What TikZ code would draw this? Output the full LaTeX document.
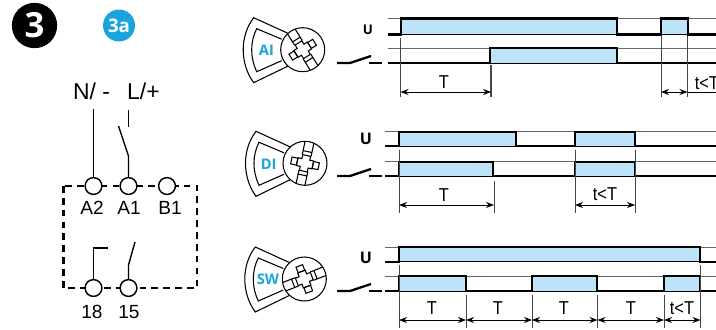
\documentclass[tikz,border=0pt]{standalone}
\usepackage{fontspec}
\setmainfont{Liberation Sans}
\newfontfamily\boldfam{Open Sans}[BoldFont={* Bold}]
\usetikzlibrary{arrows.meta}
\definecolor{sigblue}{HTML}{BDE3F9}
\definecolor{markblue}{HTML}{1BA3DD}
\definecolor{thingray}{HTML}{666666}
\newcommand{\narrow}[1]{\scalebox{0.88}[1]{#1}}
\tikzset{
  x=0.75pt,y=-0.75pt,
  wire/.style={black,line width=1.05pt},
  terminal/.style={circle,draw=black,line width=1.1pt,fill=white,minimum size=12.6pt,inner sep=0pt},
  termlabel/.style={inner sep=0pt,font=\fontsize{14.3pt}{15pt}\selectfont},
  supply/.style={inner sep=0pt,font=\fontsize{17.2pt}{18pt}\selectfont},
  boxdash/.style={black,line width=1.7pt,dash pattern=on 5pt off 3.9pt},
  sigfill/.style={fill=sigblue,draw=none},
  thinline/.style={thingray,line width=0.75pt},
  baseline/.style={black,line width=0.7pt},
  sigline/.style={black,line width=1.7pt,line join=miter},
  tick/.style={thingray!70!black,line width=0.7pt},
  dim/.style={black,line width=0.6pt,{Stealth[length=6pt,width=4.5pt]}-{Stealth[length=6pt,width=4.5pt]}},
  dimlabel/.style={inner sep=0pt,font=\fontsize{14pt}{15pt}\selectfont},
  ulabel/.style={inner sep=0pt,font=\boldfam\bfseries\fontsize{12pt}{13pt}\selectfont},
  iconline/.style={black,line width=0.8pt,line join=miter},
  iconlabel/.style={inner sep=0pt,text=markblue,font=\boldfam\bfseries\fontsize{11pt}{12pt}\selectfont},
}
% selector icon: centre x, centre y, rotation, label, node name
\newcommand{\selectoricon}[5]{
  \begin{scope}[shift={(#1,#2)}]
    \draw[iconline] (-15,-16.5) -- (-49,-32) .. controls (-63,-14) and (-63,14) .. (-49,33) -- (-15,16.5);
    \draw[iconline] (-21,-10.5) -- (-46,-21) .. controls (-52.7,-8) and (-52.7,8) .. (-46,22) -- (-21,11);
    \node[iconlabel] (#5) at (-36.3,0.5) {#4};
    \draw[iconline,fill=white] (0,0) circle (22);
    \begin{scope}[rotate=#3]
      \draw[iconline] (-4,-4) -- (-4,-8) -- (4,-8) -- (4,-4) -- (8,-4) -- (8,4) -- (4,4) -- (4,8) -- (-4,8) -- (-4,4) -- (-8,4) -- (-8,-4) -- cycle;
      \draw[iconline] (8,-3.5) rectangle (14,3.5);
      \draw[iconline] (-8,-3.5) rectangle (-14,3.5);
      \draw[iconline] (-4.5,-8) -- (-4.5,-21.5) (4.5,-8) -- (4.5,-21.5) (-4.5,-12) -- (4.5,-12);
      \draw[iconline] (-4.5,8) -- (-4.5,21.5) (4.5,8) -- (4.5,21.5) (-4.5,12) -- (4.5,12);
    \end{scope}
  \end{scope}
}
% contact symbol at height y
\newcommand{\contact}[1]{
  \draw[sigline] (337,#1) -- (350,#1) -- (371,#1-7);
  \draw[sigline] (369,#1) -- (382,#1);
}
\begin{document}
\begin{tikzpicture}
\useasboundingbox (0,0) rectangle (716,329);
\clip (0,0) rectangle (716,329);

% badges
\node[circle,fill=black,minimum size=34pt,inner sep=0pt,text=white,font=\boldfam\bfseries\fontsize{26pt}{27pt}\selectfont] (badge) at (34.5,25.5) {3};
\node[circle,fill=markblue,minimum size=24pt,inner sep=0pt,text=white,font=\boldfam\bfseries\fontsize{14pt}{15pt}\selectfont] (subbadge) at (119,25.5) {3a};

% wiring box
\draw[boxdash] (63.5,186) rectangle (197,288);
\node[terminal] (A2) at (93.5,186) {};
\node[terminal] (A1) at (128.5,186) {};
\node[terminal] (B1) at (167,186) {};
\node[terminal] (T18) at (93.5,288) {};
\node[terminal] (T15) at (128.5,288) {};
\node[termlabel] (lA2) at (92,208) {A2};
\node[termlabel] (lA1) at (129,208) {A1};
\node[termlabel] (lB1) at (170,208) {B1};
\node[termlabel] (l18) at (92,312) {18};
\node[termlabel] (l15) at (129,312) {15};
\node[supply] (lN) at (91.5,91) {N/ -};
\node[supply] (lL) at (143.5,91) {L/+};

\coordinate (Ntop) at (93.5,109);
\coordinate (Ltop) at (128.3,110);
\coordinate (Lbot) at (128.3,127);
\coordinate (swA) at (118.5,126);
\coordinate (swB) at (128.5,156);
\coordinate (r18a) at (93.5,248);
\coordinate (r18b) at (108,248);
\coordinate (r15a) at (128.5,265);
\coordinate (r15b) at (135,242);
\draw[wire] (Ntop) -- (A2);
\draw[wire] (Ltop) -- (Lbot);
\draw[wire] (swA) -- (swB) -- (A1);
\draw[wire] (T18) -- (r18a) -- (r18b);
\draw[wire] (T15) -- (r15a) -- (r15b);

% ---------- row 1
\selectoricon{302.7}{49.7}{32}{AI}{iconA}
\node[ulabel,font=\boldfam\bfseries\fontsize{10pt}{11pt}\selectfont] (u1) at (368,30) {U};
\contact{63}
\fill[sigfill] (401,18.5) rectangle (616.7,34.5) (661,18.5) rectangle (687.7,34.5);
\fill[sigfill] (490,48) rectangle (616.7,63);
\draw[thinline] (388,18.5) -- (716,18.5) (388,48) -- (716,48);
\draw[baseline] (388,34.5) -- (716,34.5) (388,63) -- (716,63);
\draw[sigline] (388,34.5) -| (401,18.5) -| (616.7,34.5) -| (661,18.5) -| (687.7,34.5) -- (716,34.5);
\draw[sigline] (388,63) -| (490,48) -| (616.7,63) -- (716,63);
\coordinate (a1) at (400.5,92); \coordinate (a2) at (491,92);
\coordinate (a3) at (661,92); \coordinate (a4) at (687.5,92); \coordinate (a5) at (716,92);
\draw[tick,line width=1pt] (400.5,38) -- (400.5,97);
\draw[tick,line width=1pt] (491,65) -- (491,97);
\draw[tick] (661,36) -- (661,97);
\draw[tick] (687.5,36) -- (687.5,97);
\draw[dim] (a1) -- (a2);
\draw[dim] (a3) -- (a4);
\draw[baseline] (a4) -- (a5);
\node[dimlabel] (T1) at (444,82.5) {\narrow{T}};
\node[dimlabel,anchor=west] (t1) at (694.5,83) {\narrow{t<T}};

% ---------- row 2
\selectoricon{305}{163.3}{-12}{DI}{iconD}
\node[ulabel] (u2) at (366,139) {U};
\contact{176}
\fill[sigfill] (399,131.7) rectangle (516,146) (574.7,131.7) rectangle (635,146);
\fill[sigfill] (399,161.7) rectangle (493.3,176) (574.7,161.7) rectangle (635,176);
\draw[thinline] (385,131.7) -- (716,131.7) (385,161.7) -- (716,161.7);
\draw[baseline] (385,146) -- (716,146) (385,176) -- (716,176);
\draw[sigline] (385,146) -| (399,131.7) -| (516,146) -| (574.7,131.7) -| (635,146) -- (716,146);
\draw[sigline] (385,176) -| (399,161.7) -| (493.3,176) -| (574.7,161.7) -| (635,176) -- (716,176);
\coordinate (b1) at (399,205); \coordinate (b2) at (494,205);
\coordinate (b3) at (575,205); \coordinate (b4) at (635,205);
\draw[tick] (399,150) -- (399,213);
\draw[tick] (494,181) -- (494,213);
\draw[tick] (575,150) -- (575,213);
\draw[tick] (635,150) -- (635,213);
\draw[dim] (b1) -- (b2);
\draw[dim] (b3) -- (b4);
\node[dimlabel] (T2) at (444,195) {\narrow{T}};
\node[dimlabel] (t2) at (605,194) {\narrow{t<T}};

% ---------- row 3
\selectoricon{304.3}{279}{-69}{SW}{iconS}
\node[ulabel] (u3) at (366,257.7) {U};
\contact{291}
\fill[sigfill] (399,247) rectangle (700,261.7);
\fill[sigfill] (399,276) rectangle (465.7,291) (531.7,276) rectangle (597,291) (663.7,276) rectangle (700,291);
\draw[thinline] (385,247) -- (716,247) (385,276) -- (716,276);
\draw[baseline] (385,261.7) -- (716,261.7) (385,291) -- (716,291);
\draw[sigline] (385,261.7) -| (399,247) -| (700,261.7) -- (716,261.7);
\draw[sigline] (385,291) -| (399,276) -| (465.7,291) -| (531.7,276) -| (597,291) -| (663.7,276) -| (700,291) -- (716,291);
\coordinate (c1) at (399,320); \coordinate (c2) at (466,320); \coordinate (c3) at (532,320);
\coordinate (c4) at (597.5,320); \coordinate (c5) at (664,320); \coordinate (c6) at (700.5,320);
\draw[tick] (399,265) -- (399,328);
\draw[tick] (466,295) -- (466,328);
\draw[tick] (532,295) -- (532,328);
\draw[tick] (597.5,295) -- (597.5,328);
\draw[tick] (664,295) -- (664,328);
\draw[tick] (700.5,265) -- (700.5,328);
\draw[dim] (c1) -- (c2);
\draw[dim] (c2) -- (c3);
\draw[dim] (c3) -- (c4);
\draw[dim] (c4) -- (c5);
\draw[dim] (c5) -- (c6);
\node[dimlabel] (T3a) at (432,308.5) {\narrow{T}};
\node[dimlabel] (T3b) at (498,308.5) {\narrow{T}};
\node[dimlabel] (T3c) at (564,308.5) {\narrow{T}};
\node[dimlabel] (T3d) at (631,308.5) {\narrow{T}};
\node[dimlabel] (t3) at (682,308.5) {\narrow{t<T}};
\end{tikzpicture}
\end{document}
